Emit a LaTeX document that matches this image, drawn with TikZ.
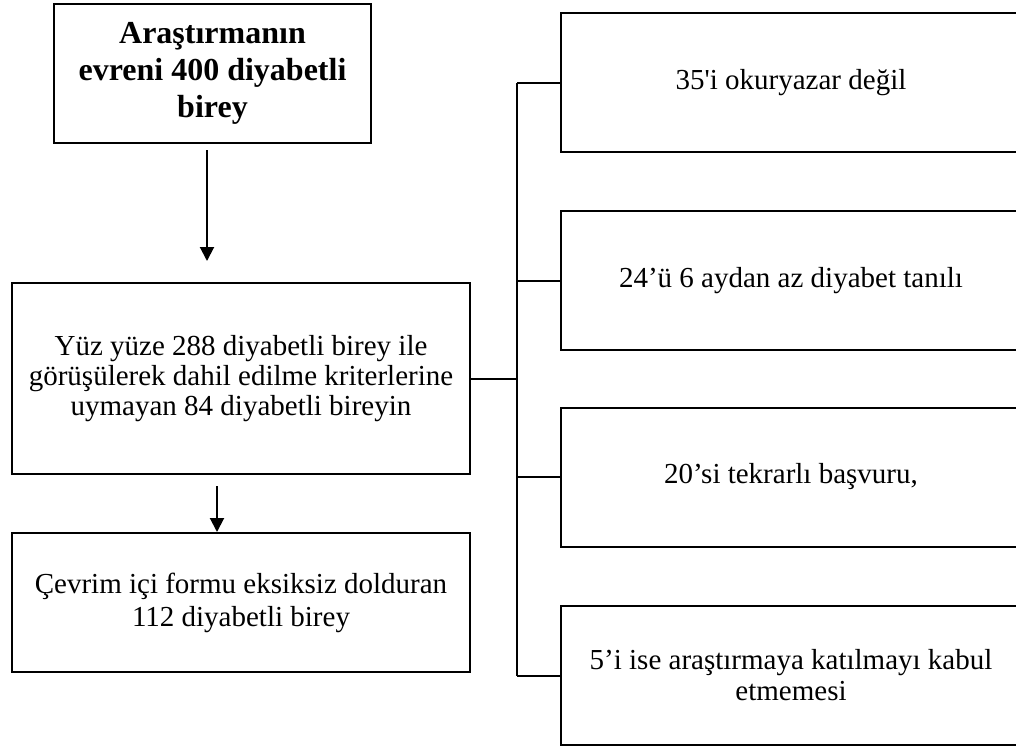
\documentclass[tikz,border=0pt]{standalone}
\usepackage{fontspec}
\setmainfont{Liberation Serif}
\usetikzlibrary{arrows.meta, positioning}

\tikzset{
  kutu/.style={draw, line width=2pt, inner sep=0pt, align=center,
    minimum width=458pt, minimum height=139pt,
    font=\fontsize{29}{33}\selectfont},
  neden/.style={kutu, minimum width=460pt},
  cizgi/.style={line width=2pt},
  ok/.style={cizgi, -{Triangle[length=14pt,width=14pt]}}
}

\begin{document}
\begin{tikzpicture}[x=1pt,y=-1pt]
\useasboundingbox (0,0) rectangle (1016,747);
\clip (0,0) rectangle (1016,747);

% sol sutun
\node [kutu, minimum width=317pt, font=\fontsize{32}{37}\selectfont\bfseries]
  (evren) at (212.5,73.5) {Araştırmanın\\evreni 400 diyabetli\\birey};
\node [kutu, minimum height=191pt, font=\fontsize{29}{30}\selectfont] (gorusme) at (241,378.5)
  {Yüz yüze 288 diyabetli birey ile\\görüşülerek dahil edilme kriterlerine\\uymayan 84 diyabetli bireyin};
\node [kutu] (sonuc) at (241,602.5) {Çevrim içi formu eksiksiz dolduran\\112 diyabetli birey};

% sag sutun
\node [neden] (neden1) at (791,82.5) {35\textquotesingle i okuryazar değil};
\node [neden] (neden2) at (791,280.5) {24’ü 6 aydan az diyabet tanılı};
\node [neden] (neden3) at (791,477) {20’si tekrarlı başvuru,};
\node [neden, font=\fontsize{29}{31}\selectfont] (neden4) at (791,675.5)
  {5’i ise araştırmaya katılmayı kabul\\etmemesi};

% oklar
\coordinate (ok1) at ([xshift=-5.5pt,yshift=-6pt]evren.south);
\draw [ok, shorten >=21pt] (ok1) -- (ok1 |- gorusme.north);
\coordinate (ok2) at ([xshift=-24pt,yshift=-11pt]gorusme.south);
\draw [ok] (ok2) -- (ok2 |- sonuc.north);

% dallanma
\coordinate (dal) at ([xshift=46pt]gorusme.east);
\draw [cizgi] (gorusme.east) -- (dal);
\draw [cizgi] (dal |- neden1.west) -- (dal |- neden4.west);
\foreach \i in {1,2,3,4}
{
	\draw [cizgi] (dal |- neden\i.west) -- (neden\i.west);
}
\end{tikzpicture}
\end{document}
